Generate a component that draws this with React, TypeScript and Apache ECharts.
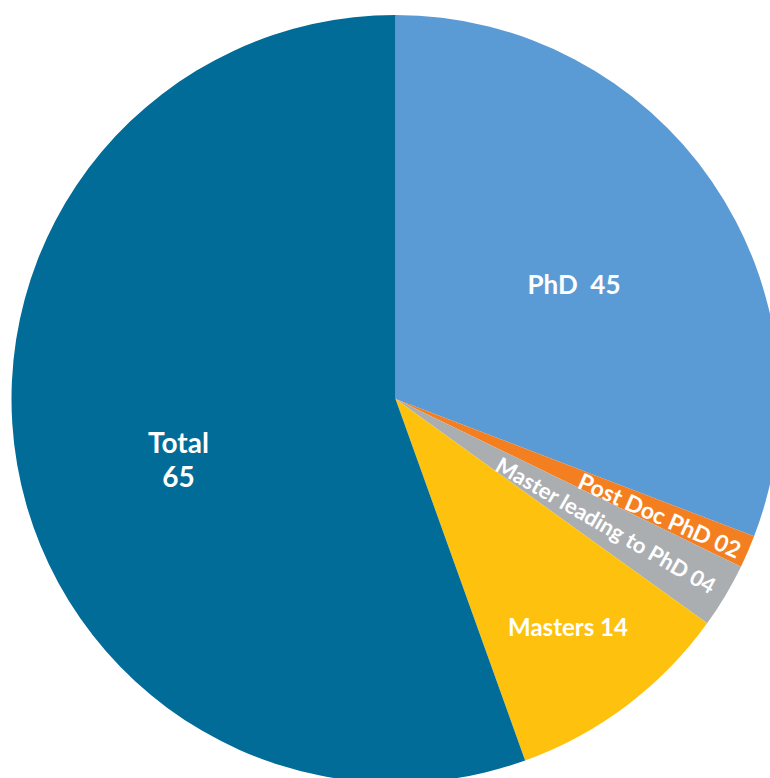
import React, { useEffect, useRef } from "react";
import * as echarts from "echarts";

// Slice names and the numbers shown on the labels
const categories = ["PhD", "Post Doc PhD", "Master leading to PhD", "Masters", "Total"];
const labelNumbers = ["45", "02", "04", "14", "65"];
// Slice sizes as drawn in the reference (angles)
const sliceValues = [45, 2, 4, 14, 81];
const colors = ["#5B9BD5", "#F47F20", "#ABAEB1", "#FEC10E", "#016C98"];

const labelTexts = ["PhD  45", "Post Doc PhD 02", "Master leading to PhD 04", "Masters 14", "Total\n65"];

// label placement (pixels) and rotation
const labelPlace = [
  { x: 574, y: 284, rotate: 0, fontSize: 26 },
  { x: 660, y: 515, rotate: -24, fontSize: 23 },
  { x: 606, y: 525, rotate: -30, fontSize: 22 },
  { x: 568, y: 626, rotate: 0, fontSize: 24 },
  { x: 178.5, y: 459, rotate: 0, fontSize: 28 },
];

export default function App() {
  const ref = useRef<HTMLDivElement>(null);
  useEffect(() => {
    if (!ref.current) return;
    const chart = echarts.init(ref.current, undefined, { renderer: "svg" });
    chart.setOption({
      animation: false,
      series: [
        {
          type: "pie",
          center: [395.5, 399],
          radius: [0, 384],
          startAngle: 90,
          clockwise: true,
          avoidLabelOverlap: false,
          silent: true,
          data: categories.map((name, i) => ({
            name,
            value: sliceValues[i],
            itemStyle: { color: colors[i] },
            label: {
              formatter: labelTexts[i],
              fontSize: labelPlace[i].fontSize,
              lineHeight: 34,
            },
          })),
          label: {
            show: true,
            position: "inside",
            color: "#ffffff",
            fontFamily: "Lato",
            fontWeight: "bold",
            align: "center",
          },
          labelLine: { show: false },
          labelLayout: (params: any) => {
            const p = labelPlace[params.dataIndex];
            return {
              x: p.x,
              y: p.y,
              rotate: p.rotate,
              align: "center",
              verticalAlign: "middle",
            };
          },
        },
      ],
    });
    return () => chart.dispose();
  }, []);
  return (
    <div
      ref={ref}
      style={{ position: "fixed", left: 0, top: 0, width: 770, height: 778, background: "#ffffff" }}
    />
  );
}
